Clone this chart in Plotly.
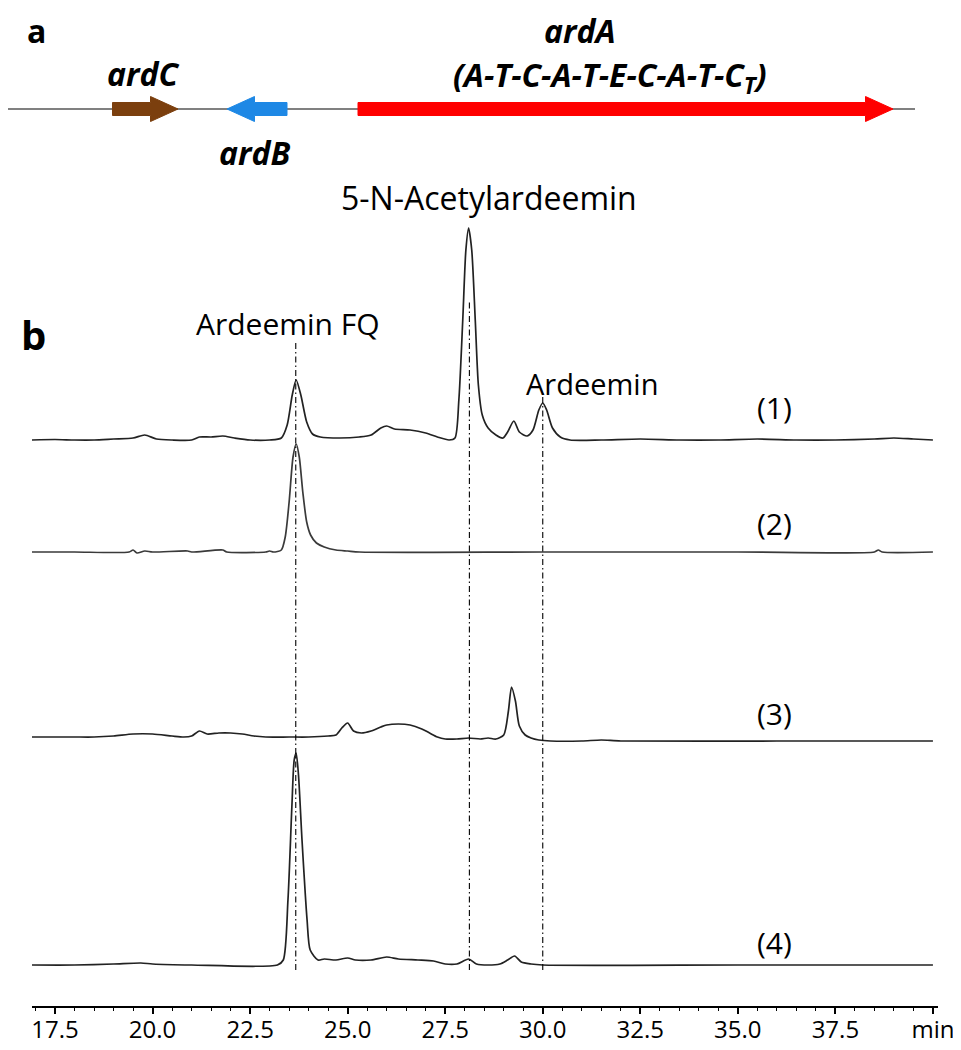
import plotly.graph_objects as go

# ---- chromatogram data (retention time in min, signal height above baseline) ----
t1 = [16.9, 17.5, 18.0, 18.5, 19.0, 19.5, 19.8, 20.1, 20.5, 21.0, 21.2, 21.5, 21.8, 22.1, 22.5,
      23.0, 23.3, 23.45, 23.58, 23.68, 23.8, 23.95, 24.1, 24.3, 24.8, 25.3, 25.6, 25.85, 26.0,
      26.2, 26.6, 27.0, 27.3, 27.6, 27.75, 27.85, 27.95, 28.03, 28.1, 28.18, 28.27, 28.35,
      28.45, 28.6, 28.8, 28.98, 29.1, 29.26, 29.4, 29.6, 29.75, 29.9, 30.0, 30.1, 30.25, 30.45,
      30.7, 31.5, 32.5, 33.5, 34.5, 35.5, 36.5, 37.5, 38.5, 39.0, 39.5, 40.0]
s1 = [0, 0.5, 0, 0, 1, 2, 5, 1, 0, 0, 3, 3, 4, 2, 0,
      0, 2, 15, 45, 60, 45, 18, 6, 3, 2, 3, 5, 12, 14,
      11, 10, 7, 3, 0, 2, 40, 120, 190, 212, 190, 120, 55,
      25, 12, 5, 2, 8, 19, 8, 4, 10, 30, 37, 30, 12, 3,
      0, 0, 1, 0, 0, 1, 0, 0, 1, 2, 1, 0]

t2 = [16.9, 18.0, 19.4, 19.5, 19.6, 19.8, 20.0, 20.9, 21.0, 21.8, 21.9, 22.9, 23.0, 23.1,
      23.3, 23.4, 23.5, 23.6, 23.68, 23.76, 23.85, 23.95, 24.05, 24.2, 24.4, 24.7, 25.0,
      25.3, 30.0, 35.0, 38.5, 38.6, 38.7, 40.0]
s2 = [0, 0, 0, 2, -1, 1, 0, 1, 0, 2, 0, 0, 1, 0,
      2, 15, 50, 95, 108, 95, 60, 30, 17, 9, 5, 2, 1,
      0, 0, 0, 0, 2, 0, 0]

t3 = [16.9, 17.5, 18.0, 18.5, 19.0, 19.5, 20.0, 20.5, 20.8, 21.0, 21.2, 21.4, 21.7, 22.0,
      22.3, 22.6, 22.9, 23.5, 24.0, 24.5, 24.7, 24.85, 25.0, 25.15, 25.35, 25.6, 25.85, 26.0,
      26.3, 26.6, 26.9, 27.1, 27.3, 27.5, 27.8, 28.1, 28.4, 28.6, 28.8, 29.0, 29.12, 29.2,
      29.3, 29.4, 29.55, 29.7, 29.9, 30.2, 31.0, 31.5, 32.0, 36.0, 40.0]
s3 = [4, 4, 4, 4, 5, 7, 7, 5, 4, 5, 10, 7, 8, 8,
      7, 5, 4, 4, 4, 5, 6, 13, 18, 10, 8, 10, 14, 16,
      17, 16, 12, 8, 4, 2, 2, 3, 2, 3, 2, 6, 30, 54,
      40, 15, 6, 3, 1, 0, 0, 1, 0, 0, 0]

t4 = [16.9, 18.0, 19.0, 19.7, 20.0, 21.0, 23.2, 23.35, 23.47, 23.57, 23.63, 23.68, 23.74,
      23.83, 23.96, 24.04, 24.24, 24.4, 24.7, 25.0, 25.2, 25.6, 26.0, 26.3, 26.8, 27.2, 27.5,
      27.8, 28.1, 28.3, 28.6, 28.9, 29.1, 29.28, 29.45, 29.7, 30.0, 35.0, 40.0]
s4 = [0, 0, 1, 2, 1, 0, 0, 5, 65, 158, 205, 212, 190,
      125, 45, 15, 5, 6, 5, 7, 5, 5, 8, 6, 5, 4, 1,
      1, 6, 1, 0, 1, 5, 9, 3, 1, 0, 0, 0]

traces = [(t1, s1), (t2, s2), (t3, s3), (t4, s4)]
trace_labels = ["(1)", "(2)", "(3)", "(4)"]

# compound markers (retention times) and their labels
marker_times = [23.67, 28.12, 30.0]
marker_names = ["Ardeemin FQ", "5-N-Acetylardeemin", "Ardeemin"]

# ---- gene cluster (kb) ----
gene_names = ["ardC", "ardB", "ardA"]
gene_start = [2.15, 4.44, 7.06]
gene_end = [3.46, 5.64, 17.76]
gene_strand = [1, -1, 1]
gene_colors = ["#7B3F0E", "#1E88E5", "#FF0000"]
locus_extent = [0.0, 18.2]

# ---------------- layout ----------------
# the page puts the figure 8px in from the top-left, so the figure is
# sized to the window minus that and page positions are shifted by it
PAGE_W, PAGE_H, PAD = 961, 1050, 8
FW, FH = PAGE_W - PAD, PAGE_H - PAD
AXIS_Y = 1006                      # page px of the time axis line
PH = AXIS_Y - PAD                  # plot-area height in figure px
CHROM_TOP = 180                    # page px where the chromatogram axis starts
GENE_BOT = 180                     # page px where the gene map ends
offsets = [566, 454, 265, 41]      # baseline of each trace (px above axis)
trace_colors = ["#222222", "#3a3a3a", "#222222", "#222222"]
FONT = "Open Sans"

fig = go.Figure()

for (t, s), off, c in zip(traces, offsets, trace_colors):
    fig.add_trace(go.Scatter(
        x=t, y=[v + off for v in s], mode="lines",
        line=dict(color=c, width=1.7, shape="spline", smoothing=0.7),
        hoverinfo="skip", showlegend=False))

# dash-dot guide lines
line_tops = [663, 704, 613]
for mt, top in zip(marker_times, line_tops):
    fig.add_trace(go.Scatter(
        x=[mt, mt], y=[36, top], mode="lines",
        line=dict(color="black", width=1.1, dash="6px,3px,1.5px,3px"),
        hoverinfo="skip", showlegend=False))

# gene arrows on a second axis pair (vertical unit = page px from top)
row_y, body_h, head_h, head_len = 109, 6.5, 12.5, 0.55
fig.add_trace(go.Scatter(
    x=locus_extent, y=[row_y, row_y], xaxis="x2", yaxis="y2", mode="lines",
    line=dict(color="#808080", width=2), hoverinfo="skip", showlegend=False))
for name, a, b, st, col in zip(gene_names, gene_start, gene_end, gene_strand, gene_colors):
    if st > 0:
        hb = b - head_len
        xs = [a, hb, hb, b, hb, hb, a, a]
    else:
        hb = a + head_len
        xs = [b, hb, hb, a, hb, hb, b, b]
    ys = [row_y - body_h, row_y - body_h, row_y - head_h, row_y,
          row_y + head_h, row_y + body_h, row_y + body_h, row_y - body_h]
    fig.add_trace(go.Scatter(
        x=xs, y=ys, xaxis="x2", yaxis="y2", mode="lines", fill="toself",
        fillcolor=col, line=dict(color=col, width=1),
        hoverinfo="skip", showlegend=False))

ann = []
def txt(px, py, s, size, bold=False, italic=False):
    if bold:
        s = f"<b>{s}</b>"
    if italic:
        s = f"<i>{s}</i>"
    ann.append(dict(x=(px - PAD) / FW, y=(AXIS_Y - py) / PH, xref="paper", yref="paper",
                    text=s, showarrow=False, xanchor="center", yanchor="middle",
                    font=dict(family=FONT, size=size, color="black")))

txt(36, 31, "a", 32, bold=True)
txt(33, 334, "b", 40, bold=True)
txt(143, 73, "ardC", 32, bold=True, italic=True)
txt(255, 153, "ardB", 32, bold=True, italic=True)
txt(580, 31, "ardA", 32, bold=True, italic=True)
txt(610, 77, "(A-T-C-A-T-E-C-A-T-C<sub>T</sub>)", 32, bold=True, italic=True)
txt(288, 323, marker_names[0], 30)
txt(489, 197, marker_names[1], 32)
txt(592, 383, marker_names[2], 29)
for lab, y in zip(trace_labels, [408, 523, 714, 942]):
    txt(774, y, lab, 30)

tickvals = [17.5, 20.0, 22.5, 25.0, 27.5, 30.0, 32.5, 35.0, 37.5, 40.0]
ticktext = [f"{v:.1f}" for v in tickvals[:-1]] + ["min"]

fig.update_layout(
    width=FW, height=FH, margin=dict(l=0, r=0, t=0, b=FH - PH, autoexpand=False),
    plot_bgcolor="white", paper_bgcolor="white", annotations=ann,
    xaxis=dict(domain=[(32 - PAD) / FW, (938 - PAD) / FW], range=[16.91, 40.13],
               tickvals=tickvals, ticktext=ticktext, ticks="outside",
               ticklen=6, tickwidth=1.5, tickcolor="black",
               ticklabelstandoff=-5, automargin=False,
               showline=True, linecolor="black", linewidth=2,
               showgrid=False, zeroline=False, fixedrange=True,
               tickfont=dict(family=FONT, size=24, color="black"),
               minor=dict(dtick=0.5, tick0=0, ticks="outside", ticklen=3,
                          tickcolor="black", tickwidth=1)),
    yaxis=dict(domain=[0, (AXIS_Y - CHROM_TOP) / PH], range=[0, AXIS_Y - CHROM_TOP],
               visible=False, fixedrange=True),
    xaxis2=dict(domain=[0, 1], range=[(PAD - 5) / 50, (PAGE_W - 5) / 50],
                visible=False, anchor="y2", fixedrange=True),
    yaxis2=dict(domain=[(AXIS_Y - GENE_BOT) / PH, 1], range=[GENE_BOT, PAD],
                visible=False, anchor="x2", fixedrange=True),
)

fig.write_html("out.html")
